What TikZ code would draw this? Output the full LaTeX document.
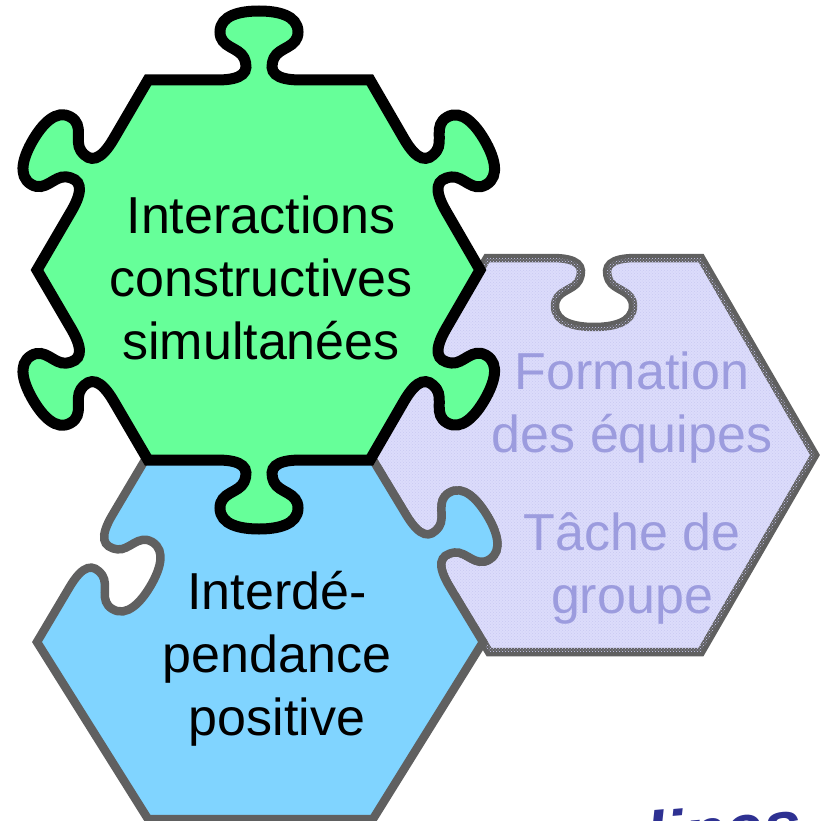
\documentclass[tikz,border=0pt]{standalone}
\usepackage{fontspec}
\setmainfont{Liberation Sans}
\usetikzlibrary{calc,patterns}
\definecolor{vert}{HTML}{66FF99}
\definecolor{bleu}{HTML}{80D4FF}
\definecolor{lavande}{HTML}{DCDCFB}
\definecolor{lavpoint}{HTML}{C9C9F2}
\definecolor{lavtexte}{HTML}{9C9CDE}
\definecolor{gris}{HTML}{606060}
\definecolor{marine}{HTML}{2E3192}
\begin{document}
\begin{tikzpicture}[x=1pt, y=1pt,
    tab/.style={to path={let \p1=(\tikztostart), \p2=(\tikztotarget),
        \n1={atan2(\y2-\y1,\x2-\x1)} in
        {[shift={({(\x1+\x2)/2},{(\y1+\y2)/2})}, rotate=\n1, yscale={-1*(#1)}]
        -- (-42,0) .. controls (-16,0) and (-9,8) .. (-15,22)
        .. controls (-20,33) and (-39,32) .. (-39,48)
        .. controls (-39,65) and (-18,69) .. (0,69)
        .. controls (18,69) and (39,65) .. (39,48)
        .. controls (39,32) and (20,33) .. (15,22)
        .. controls (9,8) and (16,0) .. (42,0)}
        -- (\tikztotarget)}},
    piece/.style={draw=gris, line width=8.5pt},
    texte/.style={align=center, font=\fontsize{52}{63}\selectfont}]
\useasboundingbox (0,-821) rectangle (819,0);

% sommets
\coordinate (g1) at (37,-270);
\coordinate (g2) at (148,-460);
\coordinate (g3) at (370,-460);
\coordinate (g4) at (480,-270);
\coordinate (g5) at (370,-80);
\coordinate (g6) at (148,-80);

\coordinate (b1) at (37,-642);
\coordinate (b2) at (148,-819);
\coordinate (b3) at (373,-819);
\coordinate (b4) at (483,-642);
\coordinate (b5) at (373,-460);
\coordinate (b6) at (145,-460);

\coordinate (l2) at (489,-652);
\coordinate (l3) at (701,-652);
\coordinate (l4) at (815,-455);
\coordinate (l5) at (701,-258);
\coordinate (l6) at (487,-258);

% texte du bas, coupe par le bord
\node[font=\fontsize{68}{68}\selectfont\bfseries\itshape, text=marine,
    rotate=5, anchor=base west] (bas) at (645,-861) {lines};

% pieces
\draw[piece, fill=lavande, postaction={pattern=crosshatch dots, pattern color=lavpoint}]
    (g3) -- (b5) to[tab=-1] (b4) -- (l2) -- (l3) -- (l4) -- (l5) to[tab=-1] (l6)
    -- (g4) to[tab=-1] (g3) -- cycle;
\draw[piece, fill=bleu]
    (b1) -- (b2) -- (b3) -- (b4) to[tab=1] (b5) to[tab=-1] (b6) to[tab=-1] (b1) -- cycle;
\draw[draw=black, line width=11pt, fill=vert]
    (g1) to[tab=1] (g2) to[tab=1] (g3) to[tab=1] (g4) to[tab=1] (g5) to[tab=1] (g6)
    to[tab=1] (g1) -- cycle;

\node[texte] (inter) at (261,-278) {Interactions\\constructives\\simultanées};
\node[texte] (interdep) at (277,-659) {Interdé-\\pendance\\positive};
\node[texte, text=lavtexte] (formation) at (632,-408) {Formation\\des équipes};
\node[texte, text=lavtexte] (tache) at (632,-568) {Tâche de\\groupe};
\end{tikzpicture}
\end{document}
